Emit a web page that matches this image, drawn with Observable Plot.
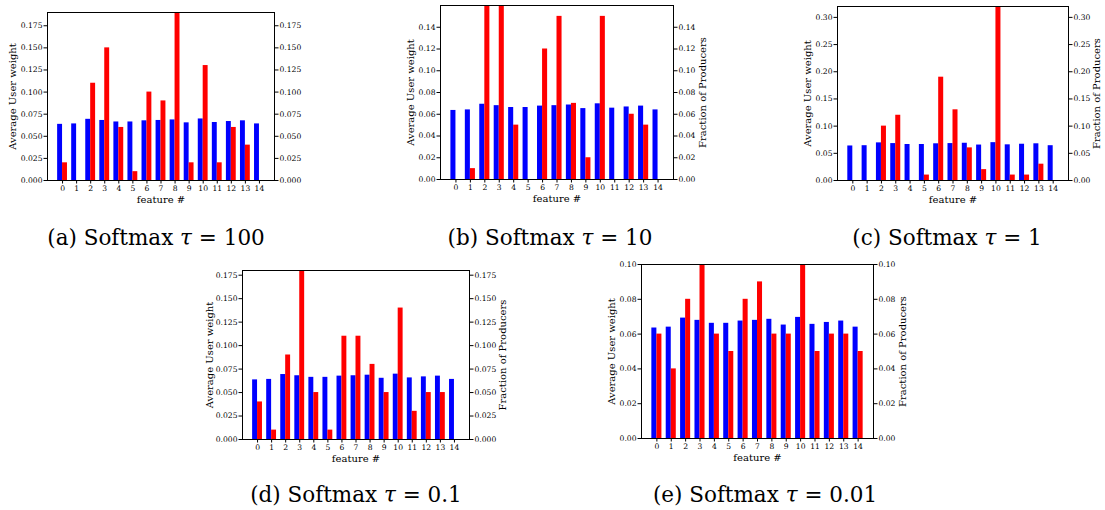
<!DOCTYPE html>
<html><head><meta charset="utf-8">
<script src="https://cdn.jsdelivr.net/npm/d3@7"></script>
<script src="https://cdn.jsdelivr.net/npm/@observablehq/plot@0.6"></script>
<style>
body{margin:0;background:#fff;}
#fig{position:relative;width:1105px;height:510px;overflow:hidden;background:#fff;}
#fig svg{position:absolute;left:0;top:0;}
.cap{position:absolute;font-family:"DejaVu Serif";font-size:21.5px;line-height:1;white-space:nowrap;transform:translateX(-50%);color:#000;}
.cap i{font-style:italic;}
</style></head><body><div id="fig"></div>
<script>
// categories
const features = [0, 1, 2, 3, 4, 5, 6, 7, 8, 9, 10, 11, 12, 13, 14];
// blue series: average user weight per feature
const userWeight = [0.0635, 0.0640, 0.0692, 0.0679, 0.0662, 0.0662, 0.0675, 0.0679, 0.0685, 0.0652, 0.0696, 0.0656, 0.0667, 0.0675, 0.0640];
// red series: fraction of producers per feature, one per panel
const producersA = [0.02, 0, 0.11, 0.15, 0.06, 0.01, 0.10, 0.09, 0.19, 0.02, 0.13, 0.02, 0.06, 0.04, 0];
const producersB = [0, 0.01, 0.16, 0.16, 0.05, 0, 0.12, 0.15, 0.07, 0.02, 0.15, 0, 0.06, 0.05, 0];
const producersC = [0, 0, 0.10, 0.12, 0, 0.01, 0.19, 0.13, 0.06, 0.02, 0.32, 0.01, 0.01, 0.03, 0];
const producersD = [0.04, 0.01, 0.09, 0.18, 0.05, 0.01, 0.11, 0.11, 0.08, 0.05, 0.14, 0.03, 0.05, 0.05, 0];
const producersE = [0.06, 0.04, 0.08, 0.10, 0.06, 0.05, 0.08, 0.09, 0.06, 0.06, 0.10, 0.05, 0.06, 0.06, 0.05];
// y tick values
const ticks3 = [0, 0.025, 0.05, 0.075, 0.1, 0.125, 0.15, 0.175];
const ticksB = [0, 0.02, 0.04, 0.06, 0.08, 0.10, 0.12, 0.14];
const ticksC = [0, 0.05, 0.10, 0.15, 0.20, 0.25, 0.30];
const ticksE = [0, 0.02, 0.04, 0.06, 0.08, 0.10];
// captions
const captions = [
  ["(a) Softmax ", "τ", " = 100"],
  ["(b) Softmax ", "τ", " = 10"],
  ["(c) Softmax ", "τ", " = 1"],
  ["(d) Softmax ", "τ", " = 0.1"],
  ["(e) Softmax ", "τ", " = 0.01"]
];
const leftLabel = "Average User weight";
const rightLabel = "Fraction of Producers";
const xLabel = "feature #";

const W = 1105, H = 510;
const fig = document.getElementById("fig");

const panels = [
  {red: producersA, ticks: ticks3, fmt: d3.format(".3f"), L: 47, R: 274, T: 12, B: 180, lOff: 34.5, rOff: null, cx: 156, cy: 227.3},
  {red: producersB, ticks: ticksB, fmt: d3.format(".2f"), L: 440, R: 673, T: 5, B: 179, lOff: 29.5, rOff: 29, cx: 550, cy: 227.3},
  {red: producersC, ticks: ticksC, fmt: d3.format(".2f"), L: 837, R: 1068, T: 6, B: 180, lOff: 30, rOff: 28.5, cx: 947, cy: 227.3},
  {red: producersD, ticks: ticks3, fmt: d3.format(".3f"), L: 242, R: 469, T: 270, B: 439, lOff: 33, rOff: 33, cx: 356, cy: 483.8},
  {red: producersE, ticks: ticksE, fmt: d3.format(".2f"), L: 641, R: 873, T: 264, B: 438, lOff: 30, rOff: 29, cx: 765, cy: 483.8}
];

panels.forEach((p, k) => {
  const rows = features.map((f, i) => ({f, blue: userWeight[i], red: p.red[i]}));
  const yMax = d3.max(p.red);
  const axisCommon = {tickSize: 3.5, tickPadding: 1.5, label: null, fontSize: 7.6, stroke: "#000"};
  const marks = [
    Plot.rect(rows, {x1: d => d.f - 0.35, x2: d => d.f, y1: 0, y2: "blue", fill: "#0000ff", inset: 0}),
    Plot.rect(rows, {x1: d => d.f, x2: d => d.f + 0.35, y1: 0, y2: "red", fill: "#ff0000", inset: 0}),
    Plot.axisX({...axisCommon, ticks: features, tickFormat: d => String(d)}),
    Plot.axisY({...axisCommon, anchor: "left", ticks: p.ticks, tickFormat: p.fmt}),
    Plot.axisY({...axisCommon, anchor: "right", ticks: p.ticks, tickFormat: p.fmt}),
    Plot.frame({stroke: "#000", strokeWidth: 1}),
    Plot.text([leftLabel], {text: d => d, frameAnchor: "left", rotate: -90, dx: -p.lOff, fontSize: 10, lineAnchor: "middle", textAnchor: "middle", fill: "#000"}),
    Plot.text([xLabel], {text: d => d, frameAnchor: "bottom", dy: 19, fontSize: 10, lineAnchor: "middle", textAnchor: "middle", fill: "#000"})
  ];
  if (p.rOff != null) {
    marks.push(Plot.text([rightLabel], {text: d => d, frameAnchor: "right", rotate: -90, dx: p.rOff, fontSize: 10, lineAnchor: "middle", textAnchor: "middle", fill: "#000"}));
  }
  const chart = Plot.plot({
    width: W, height: H,
    marginLeft: p.L, marginRight: W - p.R, marginTop: p.T, marginBottom: H - p.B,
    style: {fontFamily: "DejaVu Serif", fontSize: "7.6px", color: "#000", background: "transparent", overflow: "visible"},
    x: {type: "linear", domain: [-1.07, 15.07]},
    y: {type: "linear", domain: [0, yMax]},
    marks
  });
  fig.appendChild(chart);

  const c = captions[k];
  const div = document.createElement("div");
  div.className = "cap";
  div.style.left = p.cx + "px";
  div.style.top = p.cy + "px";
  div.append(c[0]);
  const it = document.createElement("i");
  it.textContent = c[1];
  div.append(it);
  div.append(c[2]);
  fig.appendChild(div);
});
</script></body></html>
